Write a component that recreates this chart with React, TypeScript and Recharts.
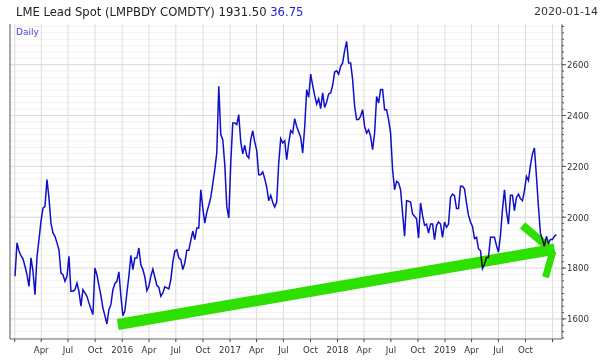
import React from 'react';
import { LineChart, Line, XAxis, YAxis, CartesianGrid, ReferenceLine } from 'recharts';

const prices2015 = [
  1768, 1899, 1867, 1849, 1836, 1807, 1774, 1728, 1840, 1787,
  1695, 1844, 1912, 1984, 2036, 2043, 2148, 2076, 1977, 1938,
  1925, 1899, 1872, 1781, 1774, 1748, 1768, 1846, 1709, 1709,
  1715, 1741, 1709, 1650, 1715, 1702, 1689, 1663, 1639, 1617,
  1800, 1774, 1732, 1693, 1643, 1613, 1580, 1636, 1656, 1715,
  1739, 1748, 1785, 1689, 1613, 1632, 1702, 1768, 1850, 1794,
  1840, 1840, 1879, 1813, 1794, 1765, 1711, 1728, 1768, 1796,
  1764, 1732, 1724, 1689, 1702, 1726, 1722, 1718, 1754, 1823,
  1866, 1872, 1840,
];
const prices2016 = [
  1833, 1794, 1820, 1870, 1870, 1909, 1945, 1912, 1958, 1958,
  2108, 2036, 1977, 2019, 2047, 2078, 2132, 2187, 2253, 2515,
  2325, 2305, 2207, 2043, 1997, 2213, 2371, 2371, 2364, 2403,
  2296, 2249, 2283, 2243, 2233, 2305, 2340, 2296, 2262, 2167,
  2167, 2178, 2152, 2118, 2065, 2086, 2059, 2040, 2060, 2213,
  2309, 2292, 2301, 2226, 2292, 2340, 2331, 2388, 2357, 2335,
  2314, 2253, 2354, 2502, 2472, 2563, 2519, 2479, 2445, 2466,
  2427, 2489, 2432, 2453, 2485, 2489, 2519, 2571, 2576, 2563,
  2593, 2607, 2655, 2692, 2607, 2607, 2541, 2436, 2384, 2384,
];
const prices2018 = [
  2397, 2423, 2357, 2331, 2344, 2318, 2266, 2331, 2475, 2449,
  2502, 2502, 2423, 2423, 2384, 2331, 2187, 2108, 2141, 2135,
  2108, 2017, 1925, 2065, 2063, 2060, 2013, 2004, 1994, 1918,
  2056, 2007, 1968, 1973, 1938, 1973, 1973, 1912, 1968, 1981,
  1973, 1921, 1981, 1960, 1973, 2078, 2091, 2085, 2034, 2034,
  2122, 2122, 2112, 2056, 2007, 1981, 1964, 1916, 1921, 1876,
  1868, 1798, 1816, 1842, 1842, 1921, 1921, 1921, 1889, 1863,
  1929, 2030, 2108, 2021, 1973, 2086, 2086, 2026, 2078, 2091,
  2073, 2065, 2104, 2161, 2144, 2204, 2249, 2272, 2161, 2043,
  1938, 1912, 1886, 1925, 1899, 1912, 1912, 1925, 1931.5,
];
const prices = [...prices2015, ...prices2016, ...prices2018];

// days after 2015-01-01: first sample 2015-01-02, last 2020-01-14
const firstDay = 1;
const lastDay = 1839;

const quarterDays = [0, 90, 181, 273, 365, 456, 547, 639, 731, 821, 912, 1004, 1096, 1186, 1277, 1369, 1461, 1551, 1642, 1734, 1826];
const quarterLabels = ['', 'Apr', 'Jul', 'Oct', '2016', 'Apr', 'Jul', 'Oct', '2017', 'Apr', 'Jul', 'Oct', '2018', 'Apr', 'Jul', 'Oct', '2019', 'Apr', 'Jul', 'Oct', ''];
const priceLabels = [1600, 1800, 2000, 2200, 2400, 2600];
const minorStep = 25;
const priceMin = 1521;
const priceMax = 2760;
const dayMin = -16;
const dayMax = 1858;

// hand-drawn green arrow (day, price)
const arrowShaft = [{ x: 350, y: 1578 }, { x: 1833, y: 1874 }];
const arrowUpper = [{ x: 1724, y: 1968 }, { x: 1812, y: 1882 }];
const arrowLower = [{ x: 1802, y: 1764 }, { x: 1827, y: 1866 }];

const step = (lastDay - firstDay) / (prices.length - 1);
const data = prices.map((p, i) => ({ day: firstDay + i * step, price: p }));

const minorTicks: number[] = [];
for (let v = Math.ceil(priceMin / minorStep) * minorStep; v <= priceMax; v += minorStep) minorTicks.push(v);

const FONT = '"DejaVu Sans", sans-serif';

const RightTick = (props: any) => {
  const { x, y, payload } = props;
  const v = payload.value;
  if (!priceLabels.includes(v)) return <g />;
  return (
    <g>
      <line x1={x - 5} x2={x - 1} y1={y} y2={y} stroke="#555" />
      <text x={x} y={y} dy={3.3} fontSize={8.6} fill="#333" fontFamily={FONT}>{v}</text>
    </g>
  );
};

const BottomTick = (props: any) => {
  const { x, y, payload } = props;
  const idx = quarterDays.indexOf(payload.value);
  const label = idx >= 0 ? quarterLabels[idx] : '';
  return (
    <text x={x} y={y} dy={8.5} fontSize={8.6} fill="#333" textAnchor="middle" fontFamily={FONT}>{label}</text>
  );
};

export default function App() {
  return (
    <div style={{ position: 'absolute', left: 0, top: 0, width: 607, height: 361, background: '#fff', fontFamily: FONT }}>
      <style>{`.recharts-line-curve{mix-blend-mode:multiply}`}</style>
      <div style={{ position: 'absolute', left: 16, top: 5, fontSize: 11.6, lineHeight: '14px', color: '#222', whiteSpace: 'nowrap' }}>
        LME Lead Spot (LMPBDY COMDTY) 1931.50 <span style={{ color: '#2222dd' }}>36.75</span>
      </div>
      <div style={{ position: 'absolute', right: 9, top: 5, fontSize: 11, lineHeight: '14px', color: '#333', whiteSpace: 'nowrap' }}>
        2020-01-14
      </div>
      <div style={{ position: 'absolute', left: 16, top: 27, fontSize: 9, lineHeight: '11px', color: '#4444dd', zIndex: 2 }}>
        Daily
      </div>
      <LineChart width={607} height={361} data={data} margin={{ top: 24, right: 0, bottom: 0, left: 0 }}>
        <CartesianGrid yAxisId="r" horizontalValues={minorTicks} vertical={false} stroke="#f1f1f1" strokeWidth={1} />
        <CartesianGrid yAxisId="r" horizontalValues={priceLabels} verticalValues={quarterDays} stroke="#dcdcdc" strokeWidth={1} />
        <XAxis
          dataKey="day"
          type="number"
          domain={[dayMin, dayMax]}
          ticks={quarterDays}
          allowDataOverflow
          height={22}
          tickSize={3}
          tickMargin={2}
          interval={0}
          axisLine={{ stroke: '#666' }}
          tickLine={{ stroke: '#444' }}
          tick={<BottomTick />}
        />
        <XAxis
          xAxisId="top"
          orientation="top"
          type="number"
          domain={[dayMin, dayMax]}
          height={0}
          tick={false}
          tickLine={false}
          axisLine={{ stroke: '#777' }}
        />
        <YAxis
          yAxisId="l"
          orientation="left"
          type="number"
          width={10}
          domain={[priceMin, priceMax]}
          ticks={minorTicks}
          allowDataOverflow
          interval={0}
          tickSize={2}
          tick={false}
          axisLine={{ stroke: '#555' }}
          tickLine={{ stroke: '#555' }}
        />
        <YAxis
          yAxisId="r"
          orientation="right"
          type="number"
          width={45}
          domain={[priceMin, priceMax]}
          ticks={minorTicks}
          allowDataOverflow
          interval={0}
          tickSize={2}
          tickMargin={3}
          axisLine={{ stroke: '#555' }}
          tickLine={{ stroke: '#555' }}
          tick={<RightTick />}
        />
        <ReferenceLine yAxisId="r" segment={arrowShaft} stroke="#2ee000" strokeWidth={11} ifOverflow="visible" />
        <ReferenceLine yAxisId="r" segment={arrowUpper} stroke="#2ee000" strokeWidth={8} ifOverflow="visible" />
        <ReferenceLine yAxisId="r" segment={arrowLower} stroke="#2ee000" strokeWidth={7} ifOverflow="visible" />
        <Line
          yAxisId="r"
          dataKey="price"
          type="linear"
          stroke="#1010cc"
          strokeWidth={1.5}
          dot={false}
          isAnimationActive={false}
        />
      </LineChart>
    </div>
  );
}
